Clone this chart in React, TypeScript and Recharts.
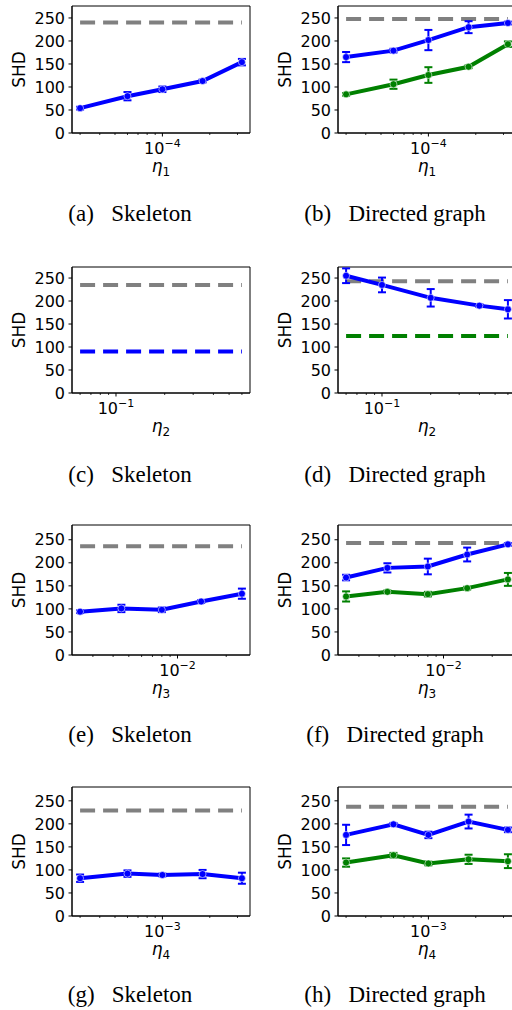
import React from "react";
import { LineChart, Line, XAxis, YAxis, ErrorBar, ReferenceArea } from "recharts";

// x values (log axis)
const eta1 = [3e-5, 6e-5, 1e-4, 1.8e-4, 3.2e-4];
const eta2 = [0.06, 0.1, 0.2, 0.4, 0.6];
const eta3 = [2.5e-3, 4.5e-3, 8e-3, 1.4e-2, 2.5e-2];
const eta4 = [3e-4, 6e-4, 1e-3, 1.8e-3, 3.2e-3];

const yTicks = [0, 50, 100, 150, 200, 250];

// (a) skeleton
const skelA = [54, 80, 95, 113, 154];
const skelAErr = [3, 9, 6, 3, 7];
const randA = 240;
// (b) directed
const dirBBlue = [165, 179, 202, 230, 239];
const dirBBlueErr = [11, 4, 22, 13, 3];
const dirBGreen = [84, 106, 126, 144, 193];
const dirBGreenErr = [3, 10, 17, 3, 6];
const randB = 248;
// (c) skeleton (constant)
const skelC = [90, 90, 90, 90, 90];
const randC = 235;
// (d) directed
const dirDBlue = [255, 235, 207, 190, 182];
const dirDBlueErr = [16, 16, 19, 3, 20];
const dirDGreen = [124, 124, 124, 124, 124];
const randD = 243;
// (e) skeleton
const skelE = [94, 101, 98, 116, 133];
const skelEErr = [3, 8, 5, 3, 11];
const randE = 236;
// (f) directed
const dirFBlue = [168, 189, 192, 218, 240];
const dirFBlueErr = [6, 10, 17, 15, 3];
const dirFGreen = [127, 137, 132, 145, 164];
const dirFGreenErr = [11, 3, 5, 3, 14];
const randF = 243;
// (g) skeleton
const skelG = [82, 92, 89, 91, 82];
const skelGErr = [8, 7, 3, 9, 12];
const randG = 229;
// (h) directed
const dirHBlue = [176, 199, 176, 205, 187];
const dirHBlueErr = [22, 3, 7, 15, 5];
const dirHGreen = [116, 132, 114, 123, 119];
const dirHGreenErr = [9, 5, 4, 10, 15];
const randH = 237;

const BLUE = "#0000ff";
const GREEN = "#008000";
const GRAY = "#808080";
const SANS = "DejaVu Sans";

type Series = { values: number[]; errors?: number[]; color: string; dashed?: boolean };

function logDomain(xs: number[]): [number, number] {
  const lo = Math.log10(Math.min(...xs));
  const hi = Math.log10(Math.max(...xs));
  const pad = (hi - lo) * 0.05;
  return [10 ** (lo - pad), 10 ** (hi + pad)];
}

function logTicks([a, b]: [number, number]) {
  const out: number[] = [];
  for (let e = Math.floor(Math.log10(a)); e <= Math.ceil(Math.log10(b)); e++) {
    for (let k = 1; k < 10; k++) {
      const v = k * 10 ** e;
      if (v >= a && v <= b) out.push(v);
    }
  }
  return out;
}

function XTick(props: any) {
  const { x, y, payload } = props;
  const l = Math.log10(payload.value);
  const major = Math.abs(l - Math.round(l)) < 1e-6;
  return (
    <g>
      <line x1={x} x2={x} y1={y} y2={y + (major ? 3.5 : 2)} stroke="#000" strokeWidth={major ? 1 : 0.8} />
      {major && (
        <text x={x} y={y + 21} textAnchor="middle" fontSize={16} fontFamily={SANS} fill="#000">
          10
          <tspan dy={-7} fontSize={11}>
            {"\u2212" + -Math.round(l)}
          </tspan>
        </text>
      )}
    </g>
  );
}

function Panel({
  xs,
  sub,
  ymax,
  plotH,
  rand,
  series,
}: {
  xs: number[];
  sub: number;
  ymax: number;
  plotH: number;
  rand: number;
  series: Series[];
}) {
  const dom = logDomain(xs);
  const data = xs.map((x, i) => {
    const row: any = { x, rand };
    series.forEach((s, j) => {
      row["s" + j] = s.values[i];
      if (s.errors) row["e" + j] = s.errors[i];
    });
    return row;
  });
  return (
    <LineChart width={256} height={6 + plotH + 60} data={data} margin={{ top: 6, right: 6, bottom: 0, left: 0 }}>
      <XAxis
        dataKey="x"
        type="number"
        scale="log"
        domain={dom}
        allowDataOverflow
        ticks={logTicks(dom)}
        interval={0}
        tick={<XTick />}
        tickSize={0}
        tickMargin={0}
        tickLine={false}
        height={60}
        axisLine={{ stroke: "#000" }}
        label={{
          content: (p: any) => {
            const vb = p.viewBox;
            return (
              <text x={vb.x + vb.width / 2} y={vb.y + 39} textAnchor="middle" fontFamily={SANS} fill="#000">
                <tspan fontSize={17} fontStyle="italic">η</tspan>
                <tspan fontSize={12} dy={4}>{sub}</tspan>
              </text>
            );
          },
        }}
      />
      <YAxis
        type="number"
        domain={[0, ymax]}
        ticks={yTicks}
        allowDataOverflow
        width={72}
        tickSize={3.5}
        tickMargin={3.5}
        interval={0}
        tick={{ fontSize: 16, fill: "#000", fontFamily: SANS }}
        axisLine={{ stroke: "#000" }}
        tickLine={{ stroke: "#000" }}
        label={{
          content: (p: any) => {
            const vb = p.viewBox;
            const cx = 19;
            const cy = vb.y + vb.height / 2;
            return (
              <text
                x={cx}
                y={cy}
                transform={`rotate(-90 ${cx} ${cy})`}
                textAnchor="middle"
                dominantBaseline="central"
                fontSize={17}
                fontFamily={SANS}
                fill="#000"
              >
                SHD
              </text>
            );
          },
        }}
      />
      <ReferenceArea x1={dom[0]} x2={dom[1]} y1={0} y2={ymax} fill="none" stroke="#000" strokeWidth={1} ifOverflow="visible" />
      <Line
        dataKey="rand"
        stroke={GRAY}
        strokeWidth={4}
        strokeDasharray="15 8"
        dot={false}
        activeDot={false}
        isAnimationActive={false}
      />
      {series.map((s, j) => (
        <Line
          key={j}
          dataKey={"s" + j}
          stroke={s.color}
          strokeWidth={4}
          strokeDasharray={s.dashed ? "15 8" : undefined}
          dot={s.dashed ? false : { r: 3.5, fill: s.color, stroke: "rgba(255,255,255,0.55)", strokeWidth: 1 }}
          activeDot={false}
          isAnimationActive={false}
        >
          {s.errors && (
            <ErrorBar dataKey={"e" + j} width={4} strokeWidth={2} stroke={s.color} direction="y" isAnimationActive={false} />
          )}
        </Line>
      ))}
    </LineChart>
  );
}

const rows = [
  { top: 0, plotH: 127, ymax: 276, capY: 221 },
  { top: 261, plotH: 126, ymax: 274, capY: 482 },
  { top: 519, plotH: 130, ymax: 282, capY: 742 },
  { top: 781, plotH: 129, ymax: 280, capY: 1002 },
];

export default function App() {
  const panels = [
    {
      xs: eta1, sub: 1, rand: randA,
      left: [{ values: skelA, errors: skelAErr, color: BLUE }],
      right: [
        { values: dirBBlue, errors: dirBBlueErr, color: BLUE },
        { values: dirBGreen, errors: dirBGreenErr, color: GREEN },
      ],
      randR: randB, caps: ["(a)", "(b)"],
    },
    {
      xs: eta2, sub: 2, rand: randC,
      left: [{ values: skelC, color: BLUE, dashed: true }],
      right: [
        { values: dirDGreen, color: GREEN, dashed: true },
        { values: dirDBlue, errors: dirDBlueErr, color: BLUE },
      ],
      randR: randD, caps: ["(c)", "(d)"],
    },
    {
      xs: eta3, sub: 3, rand: randE,
      left: [{ values: skelE, errors: skelEErr, color: BLUE }],
      right: [
        { values: dirFBlue, errors: dirFBlueErr, color: BLUE },
        { values: dirFGreen, errors: dirFGreenErr, color: GREEN },
      ],
      randR: randF, caps: ["(e)", "(f)"],
    },
    {
      xs: eta4, sub: 4, rand: randG,
      left: [{ values: skelG, errors: skelGErr, color: BLUE }],
      right: [
        { values: dirHBlue, errors: dirHBlueErr, color: BLUE },
        { values: dirHGreen, errors: dirHGreenErr, color: GREEN },
      ],
      randR: randH, caps: ["(g)", "(h)"],
    },
  ];

  return (
    <div
      style={{
        position: "absolute",
        left: 0,
        top: 0,
        width: 512,
        height: 1010,
        overflow: "hidden",
        background: "#fff",
      }}
    >
      {panels.map((p, i) => (
        <React.Fragment key={i}>
          <div style={{ position: "absolute", left: 0, top: rows[i].top }}>
            <Panel xs={p.xs} sub={p.sub} ymax={rows[i].ymax} plotH={rows[i].plotH} rand={p.rand} series={p.left} />
          </div>
          <div style={{ position: "absolute", left: 266, top: rows[i].top }}>
            <Panel xs={p.xs} sub={p.sub} ymax={rows[i].ymax} plotH={rows[i].plotH} rand={p.randR} series={p.right} />
          </div>
        </React.Fragment>
      ))}
      <svg width={512} height={1010} style={{ position: "absolute", left: 0, top: 0, pointerEvents: "none" }}>
        {panels.map((p, i) => (
          <React.Fragment key={i}>
            <text x={130} y={rows[i].capY} textAnchor="middle" fontSize={23} fontFamily="Liberation Serif" fill="#000" style={{ whiteSpace: "pre" }}>
              {p.caps[0] + "\u2002 Skeleton"}
            </text>
            <text x={395} y={rows[i].capY} textAnchor="middle" fontSize={23} fontFamily="Liberation Serif" fill="#000" style={{ whiteSpace: "pre" }}>
              {p.caps[1] + "\u2002 Directed graph"}
            </text>
          </React.Fragment>
        ))}
      </svg>
    </div>
  );
}
